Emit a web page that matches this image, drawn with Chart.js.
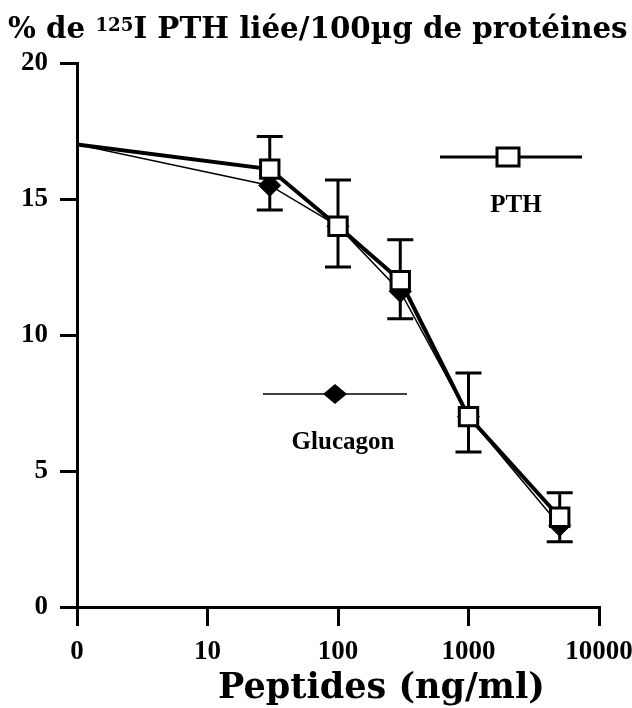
<!DOCTYPE html>
<html>
<head>
<meta charset="utf-8">
<script src="https://cdn.jsdelivr.net/npm/chart.js@4.4.0/dist/chart.umd.min.js"></script>
<style>
  html, body { margin: 0; padding: 0; background: #fff; }
  #wrap { position: relative; width: 632px; height: 708px; }
  #title, #xtitle { position: absolute; font-family: 'DejaVu Serif'; font-weight: bold; line-height: 1; white-space: nowrap; color: #000; }
  #title { left: 8px; top: 13px; font-size: 30px; }
  #title sup { font-size: 0.62em; position: relative; top: -0.4em; vertical-align: baseline; line-height: 0; }
  #xtitle { left: 218px; top: 668px; font-size: 34px; }
</style>
</head>
<body>
<div id="wrap">
  <canvas id="chart" width="632" height="708"></canvas>
  <div id="title">% de <sup>125</sup>I PTH liée/100µg de protéines</div>
  <div id="xtitle">Peptides (ng/ml)</div>
</div>
<script>
// doses in ng/ml, 0 is drawn at the axis origin (1 on the log scale)
const doses = [0, 30, 100, 300, 1000, 5000]
const pthValues = [17, 16.1, 14, 12, 7, 3.3]
const glucagonValues = [17, 15.5, 14, 11.6, 7, 3.0]
const errLow = [null, 14.6, 12.5, 10.6, 5.7, 2.4]
const errHigh = [null, 17.3, 15.7, 13.5, 8.6, 4.2]
const xTickValues = [1, 10, 100, 1000, 10000]
const xTickLabels = ['0', '10', '100', '1000', '10000']
const yTickValues = [0, 5, 10, 15, 20]

const xPos = doses.map(d => d === 0 ? 1 : d)
const serif = 'Liberation Serif'

// stretch the two html titles to the widths they have in the figure
function fitWidth(el, w) {
    const fs = parseFloat(getComputedStyle(el).fontSize)
    el.style.fontSize = (fs * w / el.getBoundingClientRect().width) + 'px'
}
fitWidth(document.getElementById('title'), 620)
fitWidth(document.getElementById('xtitle'), 327)

const errorBars = {
    id: 'errorBars',
    beforeDatasetsDraw(chart) {
        const { ctx, scales: { x, y } } = chart
        ctx.save()
        ctx.strokeStyle = '#000'
        ctx.lineWidth = 3
        xPos.forEach((d, i) => {
            if (errLow[i] == null) return
            const px = x.getPixelForValue(d)
            const top = y.getPixelForValue(errHigh[i])
            const bot = y.getPixelForValue(errLow[i])
            ctx.beginPath()
            ctx.moveTo(px, top); ctx.lineTo(px, bot)
            ctx.moveTo(px - 13, top); ctx.lineTo(px + 13, top)
            ctx.moveTo(px - 13, bot); ctx.lineTo(px + 13, bot)
            ctx.stroke()
        })
        ctx.restore()
    }
}

// legend entries drawn inside the plot, symbol on a line with the name below
const inlineLegend = {
    id: 'inlineLegend',
    afterDraw(chart) {
        const { ctx } = chart
        ctx.save()
        ctx.strokeStyle = '#000'
        // PTH
        ctx.lineWidth = 3
        ctx.beginPath(); ctx.moveTo(440, 157); ctx.lineTo(582, 157); ctx.stroke()
        ctx.fillStyle = '#fff'
        ctx.fillRect(497, 148, 22, 18)
        ctx.strokeRect(497, 148, 22, 18)
        // Glucagon
        ctx.lineWidth = 1.5
        ctx.beginPath(); ctx.moveTo(263, 394); ctx.lineTo(407, 394); ctx.stroke()
        ctx.fillStyle = '#000'
        ctx.beginPath()
        ctx.moveTo(323, 394); ctx.lineTo(335, 384); ctx.lineTo(347, 394); ctx.lineTo(335, 404)
        ctx.closePath(); ctx.fill()
        ctx.font = 'bold 25px ' + serif
        ctx.textAlign = 'center'
        ctx.textBaseline = 'alphabetic'
        ctx.fillText('PTH', 516, 212)
        ctx.fillText('Glucagon', 343, 449)
        ctx.restore()
    }
}

const tickFont = { family: serif, weight: 'bold', size: 27 }

new Chart(document.getElementById('chart'), {
    type: 'line',
    data: {
        datasets: [{
            label: 'PTH',
            data: xPos.map((d, i) => ({ x: d, y: pthValues[i] })),
            borderColor: '#000',
            borderWidth: 4,
            pointStyle: 'rect',
            pointRadius: xPos.map(d => d === 1 ? 0 : 13),
            pointBackgroundColor: '#fff',
            pointBorderColor: '#000',
            pointBorderWidth: 3,
            tension: 0
        }, {
            label: 'Glucagon',
            data: xPos.map((d, i) => ({ x: d, y: glucagonValues[i] })),
            borderColor: '#000',
            borderWidth: 1.5,
            pointStyle: 'rectRot',
            pointRadius: xPos.map(d => d === 1 ? 0 : 11),
            pointBackgroundColor: '#000',
            pointBorderColor: '#000',
            pointBorderWidth: 1,
            tension: 0
        }]
    },
    options: {
        responsive: false,
        animation: false,
        events: [],
        layout: { padding: { top: 63, right: 33, left: 0, bottom: 0 } },
        plugins: {
            legend: { display: false },
            tooltip: { enabled: false }
        },
        scales: {
            x: {
                type: 'logarithmic',
                min: 1,
                max: 10000,
                afterBuildTicks: s => { s.ticks = xTickValues.map(v => ({ value: v })) },
                ticks: {
                    color: '#000',
                    font: tickFont,
                    padding: 10,
                    maxRotation: 0,
                    autoSkip: false,
                    callback: (v, i) => xTickLabels[i]
                },
                grid: { drawOnChartArea: false, color: '#000', lineWidth: 3, tickLength: 19 },
                border: { color: '#000', width: 3 },
                afterFit: s => { s.height = 101; s.paddingLeft = 0; s.paddingRight = 0 }
            },
            y: {
                min: 0,
                max: 20,
                afterBuildTicks: s => { s.ticks = yTickValues.map(v => ({ value: v })) },
                ticks: { color: '#000', font: tickFont, padding: 12 },
                grid: { drawOnChartArea: false, color: '#000', lineWidth: 3, tickLength: 17 },
                border: { color: '#000', width: 3 },
                afterFit: s => { s.width = 77 }
            }
        }
    },
    plugins: [errorBars, inlineLegend]
})
</script>
</body>
</html>
